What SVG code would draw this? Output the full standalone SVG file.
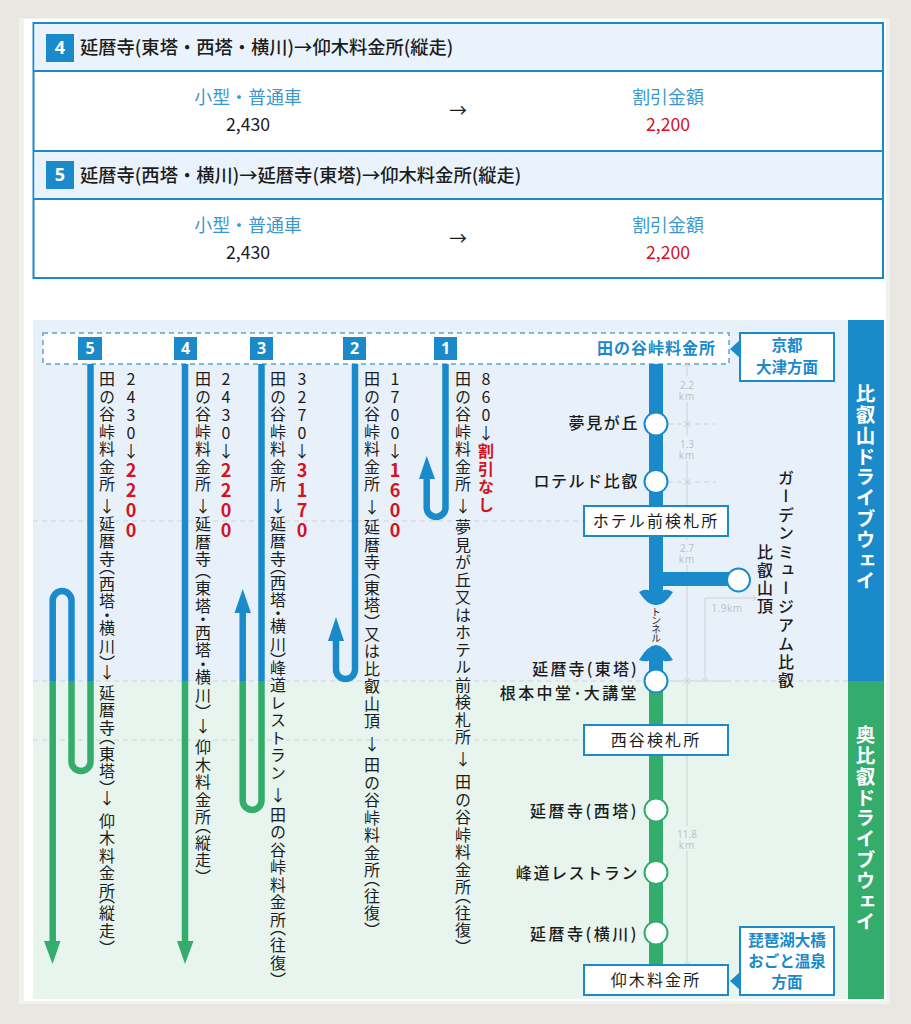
<svg xmlns="http://www.w3.org/2000/svg" width="911" height="1024" viewBox="0 0 911 1024">
<style>
text{font-family:"Noto Sans CJK JP","Noto Sans",sans-serif;fill:#1c1c1c}
.v{writing-mode:vertical-rl;text-orientation:upright;font-size:16px;letter-spacing:1.5px}
.p{font-feature-settings:"vpal"}
.d{writing-mode:vertical-rl;text-orientation:upright;font-size:16px;letter-spacing:2px}
.r{fill:#d5121e;font-weight:700;font-size:18px}
.bn{fill:#fff;font-family:"Open Sans",sans-serif;font-weight:700;font-size:16px;text-anchor:middle}
.b{fill:#1a8acb}
.g{fill:#33ac6c}
.ls{stroke:#1a8acb}.lg{stroke:#33ac6c}
.rt{fill:none;stroke-width:6.5}
.box{fill:#fff;stroke:#1a8acb;stroke-width:2}
.c{fill:#fff;stroke-width:2}
.st{font-size:16px;font-weight:500;letter-spacing:1.6px;text-anchor:end}
.bt{font-size:16px;letter-spacing:2.1px;text-anchor:middle}
.to{font-size:15.5px;font-weight:700;fill:#1a8acb;text-anchor:middle}
.km{font-family:"Open Sans",sans-serif;font-size:10px;fill:#bcbfc2;text-anchor:middle}
.gl{stroke:#cfd0d2;stroke-width:1;fill:none}
.dl{stroke:#cfd4d6;stroke-width:1;stroke-dasharray:5 4;fill:none}
.th{font-size:18.3px;font-weight:500}
.tb{font-size:17.9px;text-anchor:middle;fill:#3a98cc}
.tn{font-size:17.7px;text-anchor:middle}
.band{writing-mode:vertical-rl;text-orientation:upright;font-size:19.5px;font-weight:700;fill:#fff;letter-spacing:1.3px}
</style>
<rect width="911" height="1024" fill="#e8e7e1"/>
<rect x="19" y="18" width="871" height="986" fill="#f1f1ef"/>
<rect x="24" y="19" width="862" height="982" fill="#fff"/>
<g id="table">
<rect x="33.500" y="23" width="849.500" height="255" fill="#fff" stroke="#1a8acb" stroke-width="2"/>
<rect x="34.500" y="24" width="847.500" height="47" fill="#eaf3fb"/>
<rect x="34.500" y="152" width="847.500" height="47" fill="#eaf3fb"/>
<path d="M33 71H883M33 151H883M33 199H883" stroke="#1a8acb" stroke-width="2" fill="none"/>
<rect x="46" y="34" width="28" height="28" class="b"/><text x="60" y="54" class="bn" style="font-size:18px">4</text>
<text x="80" y="54" class="th">延暦寺(東塔・西塔・横川)→仰木料金所(縦走)</text>
<text x="248" y="104" class="tb">小型・普通車</text><text x="248" y="131" class="tn">2,430</text>
<text x="458" y="117" class="tn">→</text>
<text x="668" y="104" class="tb">割引金額</text><text x="668" y="131" class="tn" style="fill:#d5121e">2,200</text>
<rect x="46" y="161" width="28" height="28" class="b"/><text x="60" y="181" class="bn" style="font-size:18px">5</text>
<text x="80" y="182" class="th">延暦寺(西塔・横川)→延暦寺(東塔)→仰木料金所(縦走)</text>
<text x="248" y="232" class="tb">小型・普通車</text><text x="248" y="259" class="tn">2,430</text>
<text x="458" y="245" class="tn">→</text>
<text x="668" y="232" class="tb">割引金額</text><text x="668" y="259" class="tn" style="fill:#d5121e">2,200</text>
</g>
<g id="background">
<rect x="33" y="320" width="815" height="361" fill="#e8f1fa"/>
<rect x="33" y="681" width="815" height="318" fill="#e7f5ee"/>
<path d="M33 521H585M33 681H848M33 740H585" class="dl"/>
<rect x="848" y="320" width="36" height="361" class="b"/>
<rect x="848" y="681" width="36" height="318" class="g"/>
<text x="865.500" y="384" class="band">比叡山ドライブウェイ</text>
<text x="865.500" y="725" class="band">奥比叡ドライブウェイ</text>
<rect x="43" y="333" width="686" height="31" fill="#fff" stroke="#5aa6c8" stroke-width="1.500" stroke-dasharray="5 4"/>
<text x="716" y="354" class="to" style="text-anchor:end;font-size:16px;letter-spacing:1px">田の谷峠料金所</text>
</g>
<g id="connectors">
<path d="M687 364V376M687 402V436M687 461V540M687 565V826M687 851V965M705 681V598H756" class="gl"/>
<path d="M668 424H716M668 482H716M668 681H730" class="dl"/>
<path d="M684 367L687 364L690 367M684 962L687 965L690 962M753 595L756 598L753 601M702 678L705 681L708 678M684 421L690 427M690 421L684 427M684 479L690 485M690 479L684 485M684 678L690 684M690 678L684 684" class="gl"/>
<path d="M90.500 364V681" class="rt ls"/>
<path d="M90.500 681V761.500A9.500 9.500 0 0 1 71.500 761.500V681" class="rt lg"/>
<path d="M71.500 681V600.500A9.400 9.400 0 0 0 52.700 600.500V681" class="rt ls"/>
<path d="M52.700 681V945" class="rt lg"/><path d="M44 941H60.500L52.500 964Z" class="g"/>
<path d="M185 364V681" class="rt ls"/><path d="M185 681V945" class="rt lg"/><path d="M177 941H193.500L185 964Z" class="g"/>
<path d="M261.500 364V681" class="rt ls"/>
<path d="M261.500 681V800.500A9.400 9.400 0 0 1 242.700 800.500V681" class="rt lg"/>
<path d="M242.700 681V610" class="rt ls"/><path d="M234.500 613H251L242.700 589Z" class="b"/>
<path d="M355 364V669.500A9.500 9.500 0 0 1 336 669.500V638" class="rt ls"/><path d="M328 641H344L336 617Z" class="b"/>
<path d="M445.500 364V507.500A9.400 9.400 0 0 1 426.700 507.500V476" class="rt ls"/><path d="M419 479H435L426.700 456Z" class="b"/>
<path d="M656 364V600" stroke="#1a8acb" stroke-width="14" fill="none"/>
<path d="M656 652V681" stroke="#1a8acb" stroke-width="14" fill="none"/>
<path d="M656 681V967" stroke="#33ac6c" stroke-width="14" fill="none"/>
<path d="M656 579H738" stroke="#1a8acb" stroke-width="14" fill="none"/>
<path d="M639 592Q644 589 648 590Q656 596 664 590Q668 589 673 592Q664 606 656 605Q648 606 639 592Z" class="b"/>
<path d="M639 660Q644 662 648 661Q656 655 664 661Q668 662 673 660Q664 645 656 645Q648 645 639 660Z" class="b"/>
<text x="656" y="607" style="writing-mode:vertical-rl;font-size:10px;letter-spacing:-1.400px">トンネル</text>
<text class="km"><tspan x="687" y="389">2.2</tspan><tspan x="687" y="400" letter-spacing="1">km</tspan></text>
<text class="km"><tspan x="687" y="448">1.3</tspan><tspan x="687" y="459" letter-spacing="1">km</tspan></text>
<text class="km"><tspan x="687" y="552">2.7</tspan><tspan x="687" y="563" letter-spacing="1">km</tspan></text>
<text class="km"><tspan x="687" y="838">11.8</tspan><tspan x="687" y="849" letter-spacing="1">km</tspan></text>
<text x="727" y="612" class="km" letter-spacing=".5">1.9km</text>
</g>
<g id="badges">
<rect x="78" y="337" width="24" height="23" class="b"/><text x="90" y="354" class="bn">5</text>
<rect x="174" y="337" width="23" height="23" class="b"/><text x="185.500" y="354" class="bn">4</text>
<rect x="250" y="337" width="23" height="23" class="b"/><text x="261.500" y="354" class="bn">3</text>
<rect x="343" y="337" width="23" height="23" class="b"/><text x="354.500" y="354" class="bn">2</text>
<rect x="434" y="337" width="23" height="23" class="b"/><text x="445.500" y="354" class="bn">1</text>
</g>
<g id="route-labels">
<text x="107" y="371" class="v">田の谷峠料金所<tspan y="497">↓</tspan><tspan y="515.500">延暦寺</tspan><tspan y="565.500" class="p">（西塔・横川）</tspan><tspan y="664">↓</tspan><tspan y="684">延暦寺</tspan><tspan y="736" class="p">（東塔）</tspan><tspan y="790">↓</tspan><tspan y="812">仰木料金所</tspan><tspan y="895.500" class="p">（縦走）</tspan></text>
<text x="131" y="371" class="d">2430↓<tspan class="r">2200</tspan></text>
<text x="203" y="371" class="v">田の谷峠料金所<tspan y="497">↓</tspan><tspan y="516">延暦寺</tspan><tspan y="570" class="p">（東塔・西塔・横川）</tspan><tspan y="717">↓</tspan><tspan y="739">仰木料金所</tspan><tspan y="824.500" class="p">（縦走）</tspan></text>
<text x="226" y="371" class="d">2430↓<tspan class="r">2200</tspan></text>
<text x="278" y="371" class="v">田の谷峠料金所<tspan y="497">↓</tspan><tspan y="515.500">延暦寺</tspan><tspan y="565.500" class="p" style="letter-spacing:1.100px">（西塔・横川）</tspan><tspan y="660">峰道レストラン</tspan><tspan y="787">↓</tspan><tspan y="807">田の谷峠料金所</tspan><tspan y="927.500" class="p">（往復）</tspan></text>
<text x="302" y="371" class="d">3270↓<tspan class="r">3170</tspan></text>
<text x="372" y="371" class="v">田の谷峠料金所<tspan y="498">↓</tspan><tspan y="519">延暦寺</tspan><tspan y="569.500" class="p">（東塔）</tspan><tspan y="625">又は比叡山頂</tspan><tspan y="735">↓</tspan><tspan y="757">田の谷峠料金所</tspan><tspan y="877.500" class="p">（往復）</tspan></text>
<text x="395" y="371" class="d">1700↓<tspan class="r">1600</tspan></text>
<text x="463" y="371" class="v">田の谷峠料金所<tspan y="497">↓</tspan><tspan y="519">夢見が丘又はホテル前検札所</tspan><tspan y="750">↓</tspan><tspan y="774">田の谷峠料金所</tspan><tspan y="894.500" class="p">（往復）</tspan></text>
<text x="486" y="371" class="d">860↓<tspan class="r" style="font-size:16px">割引なし</tspan></text>
</g>
<g id="st-yumemi"><circle cx="656" cy="424" r="11.500" class="c ls"/><text x="639" y="429" class="st">夢見が丘</text></g>
<g id="st-rotel"><circle cx="656" cy="481.500" r="11.500" class="c ls"/><text x="639" y="487" class="st">ロテルド比叡</text></g>
<g id="st-hotel-gate"><rect x="584" y="506" width="144" height="30" class="box"/><text x="656" y="527" class="bt">ホテル前検札所</text></g>
<g id="st-summit"><circle cx="738.500" cy="580" r="11.500" class="c ls"/><text x="765" y="544" class="v" style="font-weight:500;letter-spacing:2px">比叡山頂</text></g>
<g id="st-garden"><text x="786" y="470" class="v" style="font-weight:500;letter-spacing:2.400px">ガーデンミュージアム比叡</text></g>
<g id="st-toto"><circle cx="656" cy="681" r="11.500" class="c ls"/><text x="639" y="675" class="st" style="letter-spacing:2.200px">延暦寺(東塔)</text><text x="639" y="699" class="st" style="letter-spacing:2.400px">根本中堂･大講堂</text></g>
<g id="st-nishitani-gate"><rect x="584" y="725" width="144" height="30" class="box"/><text x="656" y="746" class="bt">西谷検札所</text></g>
<g id="st-saito"><circle cx="656" cy="810" r="11.500" class="c lg"/><text x="639" y="817" class="st" style="letter-spacing:2.500px">延暦寺(西塔)</text></g>
<g id="st-minedo"><circle cx="656" cy="872.500" r="11.500" class="c lg"/><text x="639" y="879" class="st">峰道レストラン</text></g>
<g id="st-yokawa"><circle cx="656" cy="933" r="11.500" class="c lg"/><text x="639" y="940" class="st" style="letter-spacing:2.500px">延暦寺(横川)</text></g>
<g id="st-ougi"><rect x="584" y="965" width="144" height="30" class="box"/><text x="656" y="986" class="bt">仰木料金所</text></g>
<g id="to-kyoto"><path d="M730 349L740 340V358Z" class="b"/><rect x="740" y="333" width="94" height="48" class="box"/><text x="787" y="351" class="to">京都</text><text x="787" y="373" class="to">大津方面</text></g>
<g id="to-biwako"><path d="M730 981L740 972V990Z" class="b"/><rect x="740" y="927" width="94" height="68" class="box"/><text x="787" y="946" class="to">琵琶湖大橋</text><text x="787" y="967" class="to">おごと温泉</text><text x="787" y="988" class="to">方面</text></g>
</svg>
